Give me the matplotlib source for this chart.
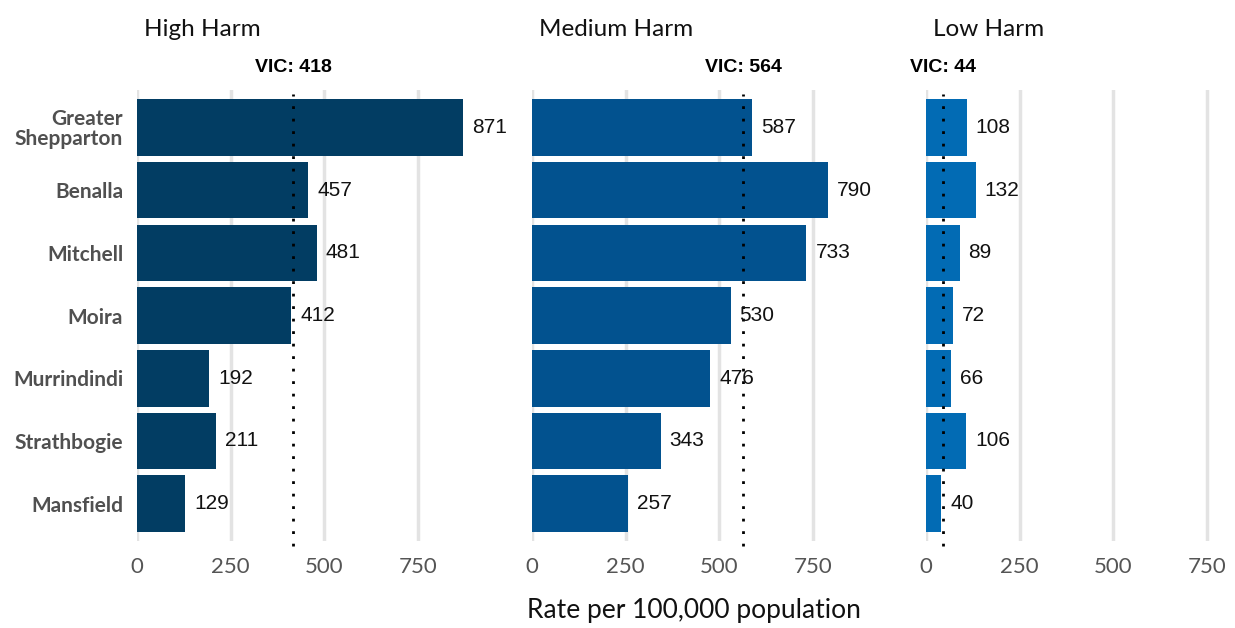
import matplotlib.pyplot as plt

plt.rcParams['font.family'] = ['Lato', 'DejaVu Sans']

# LGA harm rates per 100,000 population
lgas = ['Greater\nShepparton', 'Benalla', 'Mitchell', 'Moira',
        'Murrindindi', 'Strathbogie', 'Mansfield']
high_harm = [871, 457, 481, 412, 192, 211, 129]
medium_harm = [587, 790, 733, 530, 476, 343, 257]
low_harm = [108, 132, 89, 72, 66, 106, 40]

panel_titles = ['High Harm', 'Medium Harm', 'Low Harm']
vic_rates = [418, 564, 44]
bar_colors = ['#023d63', '#02528f', '#026bb4']
xticks = [0, 250, 500, 750]

fig = plt.figure(figsize=(12.35, 6.28), dpi=100)
lefts = [0.111, 0.431, 0.750]
width = 0.277
bottom, height = 0.138, 0.719

series = [high_harm, medium_harm, low_harm]
ypos = list(range(len(lgas)))[::-1]

for i, (vals, title, vic, col) in enumerate(zip(series, panel_titles, vic_rates, bar_colors)):
    ax = fig.add_axes([lefts[i], bottom, width, height])
    ax.set_xlim(0, 914.55)
    ax.set_ylim(-0.6, len(lgas) - 0.4)
    ax.set_xticks(xticks)
    ax.grid(axis='x', color='#e3e3e3', linewidth=2.5, zorder=0)
    ax.set_axisbelow(True)
    ax.barh(ypos, vals, height=0.9, color=col, zorder=2)
    for y, v in zip(ypos, vals):
        ax.text(v + 24, y, str(v), va='center', ha='left', fontsize=15,
                family=['Liberation Sans'], color='#111111', zorder=4)
    ax.axvline(vic, ymin=-0.01, ymax=0.99, color='black', linestyle=(0, (1, 3.5)),
               linewidth=2, zorder=3, clip_on=False)
    ax.text(vic, 1.03, f'VIC: {vic}', transform=ax.get_xaxis_transform(),
            ha='center', va='bottom', fontsize=14, fontweight='bold',
            family=['Liberation Sans'])
    ax.text(0.02, 1.11, title, transform=ax.transAxes, ha='left', va='bottom',
            fontsize=17.5, color='#111111')
    for s in ax.spines.values():
        s.set_visible(False)
    ax.tick_params(axis='x', length=0, labelsize=16, labelcolor='#555555', pad=11)
    ax.tick_params(axis='y', length=0, pad=10)
    if i == 0:
        ax.set_yticks(ypos)
        ax.set_yticklabels(lgas, fontsize=15, fontweight='bold', color='#505050',
                           linespacing=1.0)
    else:
        ax.set_yticks([])

fig.text(0.562, 0.008, 'Rate per 100,000 population', ha='center', va='bottom',
         fontsize=19, color='#111111')

fig.savefig('out.png', dpi=100, facecolor='white')
